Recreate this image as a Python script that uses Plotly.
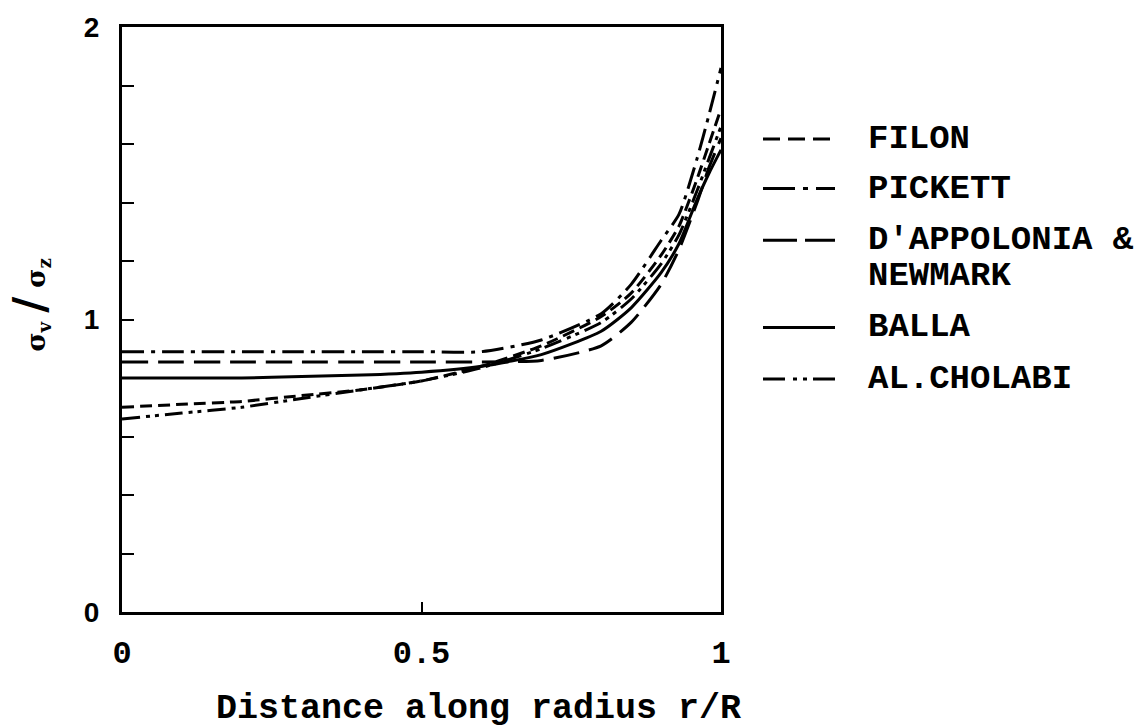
import plotly.graph_objects as go

# ---- data ----
r_over_R = [0, 0.1, 0.2, 0.3, 0.4, 0.5, 0.6, 0.7, 0.8, 0.85, 0.9, 0.93, 0.96, 0.98, 1.0]

filon = [0.70, 0.71, 0.72, 0.74, 0.76, 0.79, 0.84, 0.91, 1.01, 1.09, 1.22, 1.32, 1.48, 1.60, 1.72]
pickett = [0.89, 0.89, 0.89, 0.89, 0.89, 0.89, 0.89, 0.93, 1.02, 1.12, 1.27, 1.36, 1.55, 1.70, 1.86]
dappolonia = [0.855, 0.855, 0.855, 0.855, 0.855, 0.855, 0.855, 0.86, 0.91, 0.99, 1.12, 1.24, 1.40, 1.52, 1.62]
balla = [0.80, 0.80, 0.80, 0.805, 0.81, 0.82, 0.84, 0.88, 0.96, 1.04, 1.16, 1.26, 1.41, 1.50, 1.58]
cholabi = [0.66, 0.68, 0.70, 0.73, 0.76, 0.79, 0.835, 0.90, 0.99, 1.07, 1.19, 1.29, 1.44, 1.55, 1.66]

series_names = ["FILON", "PICKETT", "D'APPOLONIA &<br>NEWMARK", "BALLA", "AL.CHOLABI"]
series_values = [filon, pickett, dappolonia, balla, cholabi]

x_tick_vals = [0, 0.5, 1]
x_tick_text = ["0", "0.5", "1"]
y_tick_vals = [0, 1, 2]
y_tick_text = ["0", "1", "2"]

x_title = "Distance along radius r/R"
y_title = "σ<sub>v</sub> <span style='font-size:44px'>/</span> σ<sub>z</sub>"

# ---- styling ----
dashes = ["12px,6px", "22px,7px,4px,7px", "26px,10px", "solid", "18px,6px,4px,5px,4px,6px"]
legend_dashes = ["17px,8px", "32px,8px,5px,8px", "34px,8px", "solid", "22px,8px,4px,6px,4px,6px"]
FONT = "Liberation Mono"
W, H = 1139, 728
L, R, T, B = 122, 418, 22, 116
pw, ph = W - L - R, H - T - B


def px_x(px):
    return (px - L) / pw


def px_y(py):
    return (H - B - py) / ph


fig = go.Figure()
for name, vals, d in zip(series_names, series_values, dashes):
    fig.add_trace(go.Scatter(
        x=r_over_R, y=vals, mode="lines", name=name.replace("<br>", " "),
        line=dict(color="black", width=3, dash=d, shape="spline", smoothing=0.6),
        showlegend=False,
    ))

# manual legend
legend_rows_y = [135, 185, 237, 325, 377]
for name, d, ry in zip(series_names, legend_dashes, legend_rows_y):
    fig.add_shape(type="line", xref="paper", yref="paper",
                  x0=px_x(763), x1=px_x(835), y0=px_y(ry), y1=px_y(ry),
                  line=dict(color="black", width=3, dash=d))
    for k, part in enumerate(name.split("<br>")):
        fig.add_annotation(xref="paper", yref="paper", x=px_x(866), y=px_y(ry + 36 * k),
                           xanchor="left", yanchor="middle", text=part, showarrow=False,
                           font=dict(family=FONT, size=34, color="black", weight="bold"))

fig.add_annotation(xref="paper", yref="paper", x=px_x(479), y=px_y(710),
                   xanchor="center", yanchor="middle", text=x_title, showarrow=False,
                   font=dict(family=FONT, size=35, color="black", weight="bold"))
fig.add_annotation(xref="paper", yref="paper", x=px_x(30), y=px_y(303),
                   xanchor="center", yanchor="middle", text=y_title, showarrow=False,
                   textangle=-90,
                   font=dict(family="DejaVu Serif", size=26, color="black", weight="bold"))

fig.update_xaxes(range=[0, 1], tickvals=x_tick_vals, ticktext=x_tick_text,
                 ticks="inside", ticklen=10, tickwidth=2, tickcolor="black",
                 showline=True, linewidth=3, linecolor="black", mirror=True,
                 showgrid=False, zeroline=False, ticklabelstandoff=10,
                 tickfont=dict(family=FONT, size=32, color="black", weight="bold"))
fig.update_yaxes(range=[0, 2], tickvals=y_tick_vals, ticktext=y_tick_text,
                 ticks="inside", ticklen=12, tickwidth=2, tickcolor="black",
                 minor=dict(tickvals=[0.2, 0.4, 0.6, 0.8, 1.2, 1.4, 1.6, 1.8],
                            ticks="inside", ticklen=12, tickwidth=2, tickcolor="black"),
                 showline=True, linewidth=3, linecolor="black", mirror=True,
                 showgrid=False, zeroline=False, ticklabelstandoff=14,
                 tickfont=dict(family="Liberation Sans", size=28, color="black", weight="bold"))

fig.update_layout(width=W, height=H, margin=dict(l=L, r=R, t=T, b=B),
                  paper_bgcolor="white", plot_bgcolor="white", showlegend=False)

fig.write_html("out.html")
